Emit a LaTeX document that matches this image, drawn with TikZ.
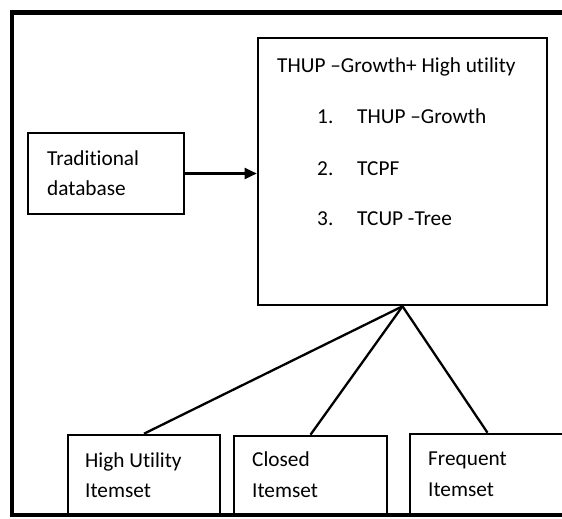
\documentclass[tikz,border=0pt]{standalone}
\usepackage{fontspec}
\setmainfont{Carlito}[Ligatures=NoCommon]
\usetikzlibrary{arrows.meta, positioning}

\tikzset{
  box/.style={draw, rectangle, line width=2.6pt, inner sep=0pt},
  frameline/.style={line width=4.5pt},
  txt/.style={anchor=base west, inner sep=0pt, font=\fontsize{21.3}{25}\selectfont},
  link/.style={line width=2.3pt},
}

\begin{document}
\begin{tikzpicture}[x=1pt, y=-1pt]
\useasboundingbox (0,0) rectangle (562,519);
\clip (0,0) rectangle (562,519);
% outer frame (its right side lies outside the picture)
\coordinate (ftr) at (590,12.5);
\coordinate (ftl) at (12,12.5);
\coordinate (fbl) at (12,515);
\coordinate (fbr) at (590,515);
\draw[frameline] (ftr) -- (ftl) -- (fbl) -- (fbr);
% boxes
\node[box, minimum width=289pt, minimum height=267pt] at (402.5,171.5) (main) {};
\node[box, minimum width=156pt, minimum height=81pt] at (106,173.5) (trad) {};
\node[box, minimum width=152pt, minimum height=80pt] at (144,475) (hu) {};
\node[box, minimum width=153pt, minimum height=79pt] at (310.5,475.5) (closed) {};
\node[box, minimum width=155pt, minimum height=81pt] at (487.5,474.5) (freq) {};
% texts
\node[txt] at (277,72) (title) {THUP –Growth+ High utility};
\node[txt] at (317,123) (n1) {1.};
\node[txt] at (357,123) (i1) {THUP –Growth};
\node[txt] at (317,175) (n2) {2.};
\node[txt] at (357,175) (i2) {TCPF};
\node[txt] at (317,225) (n3) {3.};
\node[txt] at (357,225) (i3) {TCUP -Tree};
\node[txt] at (47,165) (trad1) {Traditional};
\node[txt] at (47,195) (trad2) {database};
\node[txt] at (85,467) (hu1) {High Utility};
\node[txt] at (85,497) (hu2) {Itemset};
\node[txt] at (252,466) (cl1) {Closed};
\node[txt] at (252,497) (cl2) {Itemset};
\node[txt] at (428,465) (fr1) {Frequent};
\node[txt] at (428,496) (fr2) {Itemset};
% connectors
\draw[link, -{Triangle[length=12pt, width=11pt]}] (trad.east) -- (trad.east -| main.west);
\draw[link] (main.south) -- (hu.north);
\draw[link] (main.south) -- (closed.north);
\draw[link] (main.south) -- (freq.north);
\end{tikzpicture}
\end{document}
